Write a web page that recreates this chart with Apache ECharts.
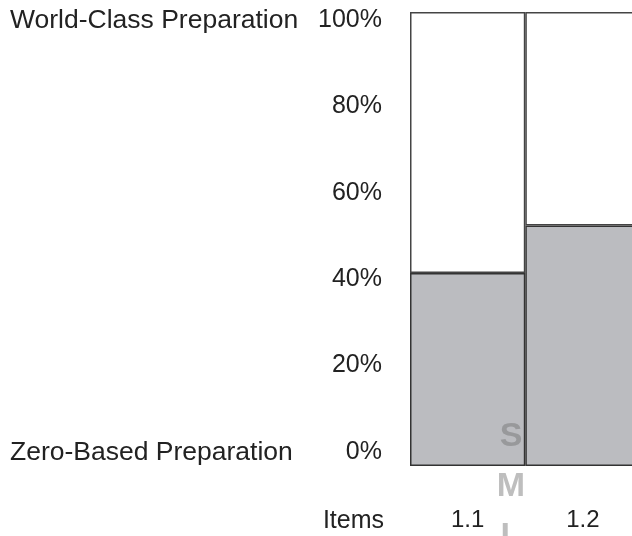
<!DOCTYPE html>
<html>
<head>
<meta charset="utf-8">
<script src="https://cdn.jsdelivr.net/npm/echarts@6/dist/echarts.min.js"></script>
<style>
  html, body { margin: 0; padding: 0; background: #fff; }
  #chart { width: 632px; height: 536px; }
</style>
</head>
<body>
<div id="chart"></div>
<script>
// Items and their preparation level (percent of world-class)
const categories = ['1.1', '1.2'];
const preparation = [42.5, 53];
const scaleTicks = [0, 20, 40, 60, 80, 100];
const topLabel = 'World-Class Preparation';
const bottomLabel = 'Zero-Based Preparation';
const axisTitle = 'Items';
const sizeMarks = ['S', 'M', 'L'];

const remainder = preparation.map(v => 100 - v);
const FONT = '"Liberation Sans", Arial, sans-serif';
const TEXT = '#222';

const chart = echarts.init(document.getElementById('chart'), null, { renderer: 'canvas' });

chart.setOption({
  animation: false,
  backgroundColor: '#fff',
  textStyle: { fontFamily: FONT },
  grid: [
    { left: 410, top: 12, width: 230.6, height: 454, outerBoundsMode: 'none', containLabel: false },
    { left: 410, top: 20, width: 230.6, height: 432, outerBoundsMode: 'none', containLabel: false }
  ],
  xAxis: [
    {
      type: 'category', gridIndex: 0, data: categories,
      axisLine: { show: false }, axisTick: { show: false },
      axisLabel: { margin: 42, fontSize: 24, color: TEXT, fontFamily: FONT }
    },
    { type: 'category', gridIndex: 1, data: categories, show: false }
  ],
  yAxis: [
    {
      type: 'value', gridIndex: 0, min: 0, max: 100,
      axisLine: { show: false }, axisTick: { show: false },
      axisLabel: { show: false }, splitLine: { show: false }
    },
    {
      // percentage scale, drawn just inside the bar range
      type: 'value', gridIndex: 1, min: scaleTicks[0], max: scaleTicks[scaleTicks.length - 1],
      interval: scaleTicks[1] - scaleTicks[0],
      axisLine: { show: false }, axisTick: { show: false }, splitLine: { show: false },
      axisLabel: { margin: 28, fontSize: 25, color: TEXT, fontFamily: FONT, formatter: '{value}%' }
    }
  ],
  series: [
    {
      type: 'bar', stack: 'level', xAxisIndex: 0, yAxisIndex: 0,
      data: preparation, barCategoryGap: '0%',
      itemStyle: { color: '#bbbcc0', borderColor: '#333', borderWidth: 1.5 }
    },
    {
      type: 'bar', stack: 'level', xAxisIndex: 0, yAxisIndex: 0,
      data: remainder, barCategoryGap: '0%',
      itemStyle: { color: '#fff', borderColor: '#444', borderWidth: 1.5 }
    }
  ],
  graphic: [
    {
      type: 'text', x: 10, y: 21,
      style: { text: topLabel, fontSize: 26.5, fill: TEXT, fontFamily: FONT, verticalAlign: 'middle' }
    },
    {
      type: 'text', x: 10, y: 453,
      style: { text: bottomLabel, fontSize: 26.5, fill: TEXT, fontFamily: FONT, verticalAlign: 'middle' }
    },
    {
      type: 'text', x: 384, y: 521,
      style: { text: axisTitle, fontSize: 25, fill: TEXT, fontFamily: FONT, align: 'right', verticalAlign: 'middle' }
    },
    {
      type: 'text', x: 511, y: 412, z: 10,
      style: {
        text: sizeMarks.join('\n'), fontSize: 34, fontWeight: 'bold', lineHeight: 50,
        align: 'center', fill: 'rgba(110,110,110,0.45)', fontFamily: FONT
      }
    }
  ]
});
</script>
</body>
</html>
